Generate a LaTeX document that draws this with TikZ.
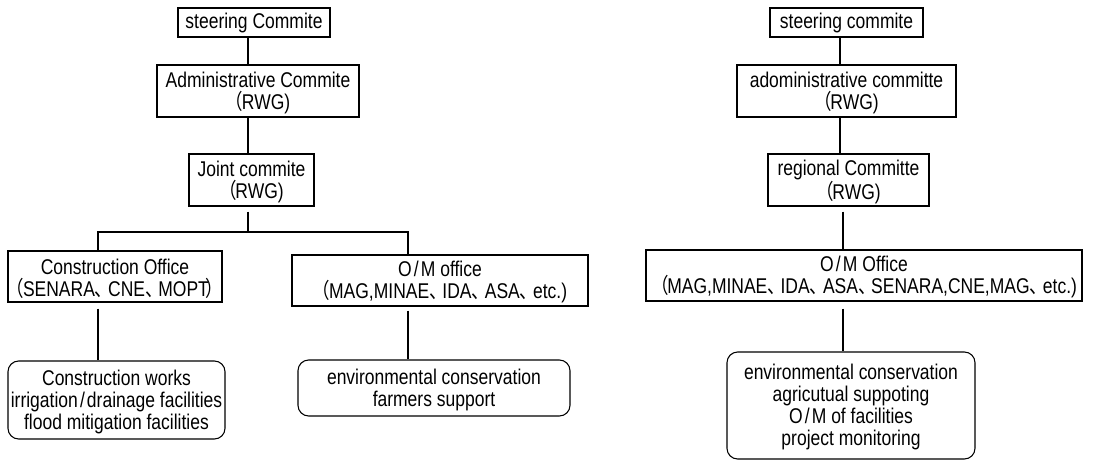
\documentclass[tikz,border=0pt]{standalone}
\usepackage{fontspec}
\setmainfont{Liberation Sans}[FakeStretch=0.82]
\newfontfamily\cjk{Noto Sans CJK JP}[FakeStretch=0.82]
\newcommand\lpar{{\cjk （}\kern-0.06em}
\newcommand\rpar{\kern-0.15em{\cjk ）}}
\newcommand\tten{{\cjk 、}\kern-0.2em}
\newcommand\slsh{\kern0.1em/\kern0.1em}
\newcommand\cl[1]{\makebox[0pt]{#1}}
\newcommand\tp{\rule{0pt}{14.5pt}}
\usetikzlibrary{calc}
\begin{document}
\begin{tikzpicture}[x=0.75pt,y=-0.75pt,
  font=\fontsize{16}{16.5}\selectfont,
  box/.style={draw, line width=0.8pt, inner sep=0pt, align=center},
  rbox/.style={box, rounded corners=8pt},
  link/.style={draw, line width=0.8pt}]
\useasboundingbox (0,0) rectangle (1103,460);

% ---------- left chart ----------
\node[box, minimum width=114pt, minimum height=21.75pt] (L1) at (254,22.5) {\cl{steering Commite}};
\node[box, minimum width=151.5pt, minimum height=39pt] (L2) at (258,91) {\tp\cl{Administrative Commite}\\\cl{\lpar RWG)}};
\node[box, minimum width=93.75pt, minimum height=39pt] (L3) at (251.5,180) {\tp\cl{Joint commite}\\\cl{\lpar RWG)}};
\node[box, minimum width=160.5pt, minimum height=38.25pt] (L4) at (115,276.5) {\tp\cl{Construction Office}\\\cl{\lpar SENARA\tten CNE\tten MOPT\rpar}};
\node[box, minimum width=222pt, minimum height=38.25pt] (L5) at (440,280.5) {\tp\cl{O\slsh M office}\\\cl{\lpar MAG,MINAE\tten IDA\tten ASA\tten etc.)}};
\node[rbox, minimum width=162.75pt, minimum height=58.5pt] (L6) at (116.5,400) {\tp\cl{Construction works}\\\cl{irrigation\slsh drainage facilities}\\\cl{flood mitigation facilities}};
\node[rbox, minimum width=204pt, minimum height=42pt] (L7) at (434,388) {\tp\cl{environmental conservation}\\\cl{farmers support}};

\coordinate (cx) at (248,0);
\coordinate (ax) at (98,0);
\coordinate (bx) at (408,0);
\coordinate (bus) at (0,232);
\draw[link] (L1.south -| cx) -- (L2.north -| cx);
\draw[link] (L2.south -| cx) -- (L3.north -| cx);
\draw[link] ($(L3.south -| cx)+(0,5)$) -- (bus -| cx);
\draw[link] (L4.north -| ax) -- (bus -| ax) -- (bus -| bx) -- (L5.north -| bx);
\draw[link] ($(L4.south -| ax)+(0,6)$) -- (L6.north -| ax);
\draw[link] ($(L5.south -| bx)+(0,4)$) -- (L7.north -| bx);

% ---------- right chart ----------
\node[box, minimum width=114.75pt, minimum height=21.75pt] (R1) at (846.5,22.5) {\cl{steering commite}};
\node[box, minimum width=164.25pt, minimum height=39pt] (R2) at (846.5,91) {\tp\cl{adoministrative committe}\\\cl{\lpar RWG)}};
\node[box, minimum width=120.75pt, minimum height=39pt] (R3) at (848.5,180) {\tp\cl{regional Committe}\\\cl{\lpar RWG)}};
\node[box, minimum width=327pt, minimum height=38.25pt] (R4) at (864,275.5) {\tp\cl{O\slsh M Office}\\\cl{\lpar MAG,MINAE\tten IDA\tten ASA\tten SENARA,CNE,MAG\tten etc.)}};
\node[rbox, minimum width=186pt, minimum height=80.25pt] (R5) at (851,405.5) {\tp\cl{environmental conservation}\\\cl{agricutual suppoting}\\\cl{O\slsh M of facilities}\\\cl{project monitoring}};

\coordinate (dx) at (840,0);
\coordinate (ex) at (843,0);
\draw[link] (R1.south -| dx) -- (R2.north -| dx);
\draw[link] (R2.south -| dx) -- (R3.north -| dx);
\draw[link] ($(R3.south -| ex)+(0,5)$) -- (R4.north -| ex);
\draw[link] ($(R4.south -| ex)+(0,7)$) -- (R5.north -| ex);
\end{tikzpicture}
\end{document}
